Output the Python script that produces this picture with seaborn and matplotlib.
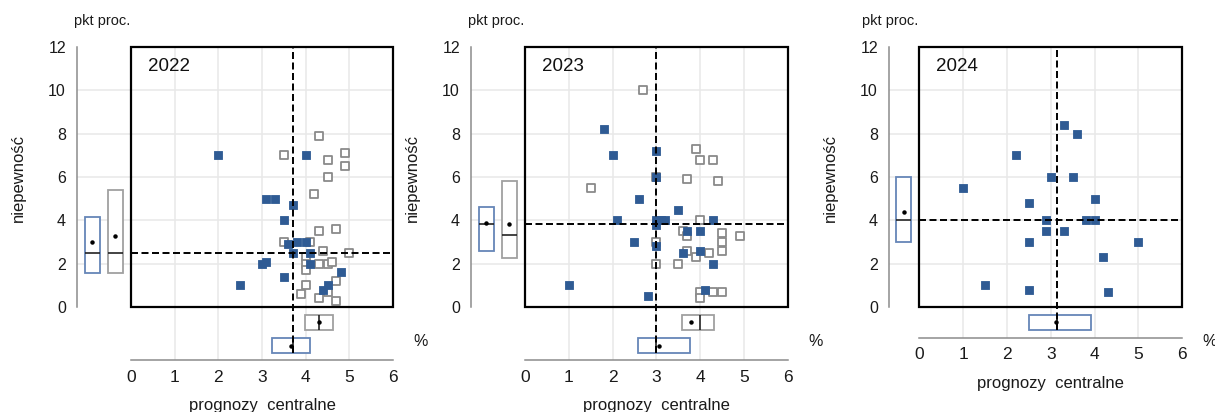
import matplotlib
matplotlib.use("Agg")
import matplotlib.pyplot as plt
from matplotlib.patches import Rectangle
import seaborn as sns

# ---------------- data ----------------
years = ["2022", "2023", "2024"]

# current survey round (filled blue squares)
x22_cur = [2.0, 4.0, 3.1, 3.3, 3.7, 3.5, 3.6, 3.8, 4.0, 3.7, 4.1, 4.1, 3.0, 3.1, 3.5, 2.5, 4.8, 4.5, 4.4]
y22_cur = [7.0, 7.0, 5.0, 5.0, 4.7, 4.0, 2.9, 3.0, 3.0, 2.5, 2.5, 2.0, 2.0, 2.1, 1.4, 1.0, 1.6, 1.0, 0.8]
x23_cur = [1.0, 1.8, 2.0, 2.6, 2.1, 2.5, 2.8, 3.0, 3.0, 3.0, 3.1, 3.2, 3.0, 3.0, 3.5, 3.7, 4.0, 4.3, 3.6, 4.0, 4.3, 4.1]
y23_cur = [1.0, 8.2, 7.0, 5.0, 4.0, 3.0, 0.5, 7.2, 6.0, 4.0, 4.0, 4.0, 3.8, 2.8, 4.5, 3.5, 3.5, 4.0, 2.5, 2.6, 2.0, 0.8]
x24_cur = [1.0, 1.5, 2.2, 2.5, 2.5, 2.5, 2.9, 2.9, 3.0, 3.3, 3.3, 3.6, 3.5, 3.8, 4.0, 4.0, 4.2, 4.3, 5.0]
y24_cur = [5.5, 1.0, 7.0, 4.8, 3.0, 0.8, 4.0, 3.5, 6.0, 8.4, 3.5, 8.0, 6.0, 4.0, 4.0, 5.0, 2.3, 0.7, 3.0]

# previous survey round (hollow grey squares)
x22_prev = [4.3, 3.5, 4.9, 4.5, 4.9, 4.5, 4.2, 4.3, 4.7, 3.5, 4.1, 4.4, 5.0, 4.0, 4.0, 4.0, 4.3, 4.5, 4.6,
            4.7, 4.0, 3.9, 4.3, 4.5, 4.7]
y22_prev = [7.9, 7.0, 7.1, 6.8, 6.5, 6.0, 5.2, 3.5, 3.6, 3.0, 3.0, 2.6, 2.5, 2.3, 2.0, 1.7, 2.0, 2.0, 2.1,
            1.2, 1.0, 0.6, 0.4, 0.7, 0.3]
x23_prev = [2.7, 1.5, 3.0, 3.9, 4.0, 4.3, 3.7, 4.4, 4.0, 3.6, 3.7, 4.5, 4.5, 4.9, 3.0, 3.7, 3.9, 4.2, 4.5,
            3.0, 3.5, 4.0, 4.0, 4.3, 4.5]
y23_prev = [10.0, 5.5, 6.0, 7.3, 6.8, 6.8, 5.9, 5.8, 4.0, 3.5, 3.3, 3.4, 3.0, 3.3, 3.0, 2.6, 2.3, 2.5, 2.6,
            2.0, 2.0, 0.7, 0.4, 0.7, 0.7]

# box statistics (q1, median, q3, mean) per year
xbox_cur_q1 = [3.24, 2.59, 2.51]
xbox_cur_med = [3.70, 3.00, 3.15]
xbox_cur_q3 = [4.10, 3.77, 3.91]
xbox_cur_mean = [3.67, 3.06, 3.13]
xbox_prev_q1 = [3.98, 3.58]
xbox_prev_med = [4.30, 4.00]
xbox_prev_q3 = [4.63, 4.32]
xbox_prev_mean = [4.31, 3.79]

ybox_cur_q1 = [1.55, 2.60, 2.98]
ybox_cur_med = [2.50, 3.83, 4.00]
ybox_cur_q3 = [4.17, 4.63, 5.98]
ybox_cur_mean = [3.01, 3.88, 4.37]
ybox_prev_q1 = [1.55, 2.25]
ybox_prev_med = [2.50, 3.31]
ybox_prev_q3 = [5.40, 5.83]
ybox_prev_mean = [3.28, 3.82]

x_ticks = [0, 1, 2, 3, 4, 5, 6]
y_ticks = [0, 2, 4, 6, 8, 10, 12]

cur_x = [x22_cur, x23_cur, x24_cur]
cur_y = [y22_cur, y23_cur, y24_cur]
prev_x = [x22_prev, x23_prev, None]
prev_y = [y22_prev, y23_prev, None]

# ---------------- style ----------------
sns.set_style("white")
plt.rcParams["font.family"] = ["Liberation Sans", "DejaVu Sans"]

BLUE = "#2F5B94"
BLUE_EDGE = "#6686B8"
GREY = "#8A8A8A"
GREY_BOX = "#A0A0A0"
GRID = "#E8E8E8"
SPINE = "#8C8C8C"
DASH = (0, (3.6, 1.8))

W, H = 1215, 412
fig = plt.figure(figsize=(W / 100, H / 100), dpi=100)

# layout in pixels: (left spine x, frame left x, frame right x, bottom spine y)
layout = [
    (77.0, 131.0, 393.0, 360.0),
    (471.0, 525.0, 787.7, 360.0),
    (889.0, 919.3, 1182.3, 337.7),
]
TOP_PX = 47.0   # y = 12
Y0_PX = 307.0   # y = 0

for i, yr in enumerate(years):
    sx, fl, fr, by = layout[i]
    pxx = (fr - fl) / 6.0
    pxy = (Y0_PX - TOP_PX) / 12.0
    xl = -(fl - sx) / pxx
    yb = -(by - Y0_PX) / pxy
    ax = fig.add_axes([sx / W, (H - by) / H, (fr - sx) / W, (by - TOP_PX) / H])
    ax.set_xlim(xl, 6)
    ax.set_ylim(yb, 12)

    # grid
    for gx in x_ticks[1:-1]:
        ax.axvline(gx, color=GRID, lw=1.1, zorder=0)
    for gy in y_ticks[1:-1]:
        ax.axhline(gy, color=GRID, lw=1.1, zorder=0)

    has_prev = prev_x[i] is not None

    # scatter
    if has_prev:
        sns.scatterplot(x=prev_x[i], y=prev_y[i], marker="s", s=28, color="white",
                        edgecolor=GREY, linewidth=1.3, ax=ax, zorder=3, legend=False)
    sns.scatterplot(x=cur_x[i], y=cur_y[i], marker="s", s=40, color=BLUE,
                    edgecolor=BLUE, linewidth=0.6, ax=ax, zorder=4, legend=False)

    # box plots
    near_x, far_x = -0.36, -0.885
    near_y, far_y = -0.715, -1.78
    bw_x, bw_y = 0.345, 0.69

    def box(q1, med, q3, mean, pos, width, color, orient):
        st = [dict(q1=q1, med=med, q3=q3, mean=mean, whislo=q1, whishi=q3, fliers=[])]
        ax.bxp(st, positions=[pos], widths=width, orientation=orient, patch_artist=True,
               showmeans=True, showcaps=False, showfliers=False, manage_ticks=False,
               boxprops=dict(facecolor="white", edgecolor=color, linewidth=1.3),
               medianprops=dict(color="#222222", linewidth=1.2),
               meanprops=dict(marker="o", markerfacecolor="black", markeredgecolor="black",
                              markersize=2.2),
               whiskerprops=dict(linewidth=0), zorder=5)

    if has_prev:
        box(xbox_prev_q1[i], xbox_prev_med[i], xbox_prev_q3[i], xbox_prev_mean[i],
            near_y, bw_y, GREY_BOX, "horizontal")
        box(xbox_cur_q1[i], xbox_cur_med[i], xbox_cur_q3[i], xbox_cur_mean[i],
            far_y, bw_y, BLUE_EDGE, "horizontal")
        box(ybox_prev_q1[i], ybox_prev_med[i], ybox_prev_q3[i], ybox_prev_mean[i],
            near_x, bw_x, GREY_BOX, "vertical")
        box(ybox_cur_q1[i], ybox_cur_med[i], ybox_cur_q3[i], ybox_cur_mean[i],
            far_x, bw_x, BLUE_EDGE, "vertical")
        vbot = far_y - bw_y / 2
    else:
        box(xbox_cur_q1[i], xbox_cur_med[i], xbox_cur_q3[i], xbox_cur_mean[i],
            near_y, bw_y, BLUE_EDGE, "horizontal")
        box(ybox_cur_q1[i], ybox_cur_med[i], ybox_cur_q3[i], ybox_cur_mean[i],
            near_x, bw_x, BLUE_EDGE, "vertical")
        vbot = near_y - bw_y / 2

    # median dashed lines
    ax.plot([xbox_cur_med[i]] * 2, [vbot, 12], color="black", lw=1.4, ls=DASH,
            zorder=6, clip_on=False)
    ax.plot([0, 6], [ybox_cur_med[i]] * 2, color="black", lw=1.4, ls=DASH,
            zorder=6, clip_on=False)

    # frame
    ax.add_patch(Rectangle((0, 0), 6, 12, fill=False, ec="black", lw=1.6,
                           zorder=7, clip_on=False))

    # axes / spines
    for s in ("top", "right"):
        ax.spines[s].set_visible(False)
    for s in ("left", "bottom"):
        ax.spines[s].set_color(SPINE)
        ax.spines[s].set_linewidth(1.1)
    ax.spines["left"].set_bounds(0, 12)
    ax.spines["bottom"].set_bounds(0, 6)
    ax.set_xticks(x_ticks)
    ax.set_yticks(y_ticks)
    ax.set_xticklabels([str(t) for t in x_ticks])
    ax.set_yticklabels([str(t) for t in y_ticks])
    ax.tick_params(axis="both", direction="out", length=4, width=1, color=SPINE,
                   labelcolor="#1a1a1a")
    ax.tick_params(axis="x", labelsize=12.5, pad=3)
    ax.tick_params(axis="y", labelsize=11.5, pad=4)
    ax.set_xlabel("")
    ax.set_ylabel("")

    # texts
    ax.text(0.39, 11.12, yr, fontsize=13.5, ha="left", va="center", color="#111111", zorder=8)
    ax.text(-(57.0 / pxx), (Y0_PX - 20.7) / pxy, "pkt proc.", fontsize=10.5,
            ha="left", va="center", color="#1a1a1a", clip_on=False)
    ax.text(6 + 27.7 / pxx, -(341.7 - Y0_PX) / pxy, "%", fontsize=11.5,
            ha="center", va="center", color="#1a1a1a", clip_on=False)
    fig.text((sx - 59) / W, (H - 178) / H, "niepewność", rotation=90, fontsize=12,
             ha="center", va="center", color="#1a1a1a")
    fig.text(((fl + fr) / 2) / W, (H - (by + 50)) / H, "prognozy  centralne", fontsize=12,
             ha="center", va="baseline", color="#1a1a1a")

fig.savefig("out.png", dpi=100)
